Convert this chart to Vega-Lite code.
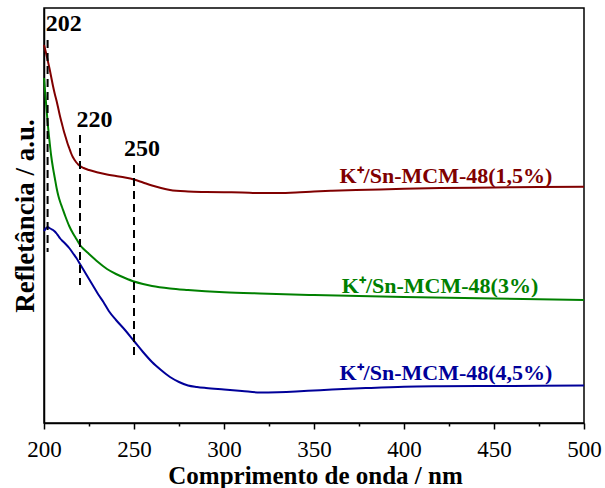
{
  "$schema": "https://vega.github.io/schema/vega-lite/v6.json",
  "autosize": "none",
  "width": 540,
  "height": 415,
  "padding": {"left": 44, "top": 8, "right": 21, "bottom": 65},
  "background": "white",
  "config": {
    "font": "Liberation Serif",
    "view": {"stroke": "black", "strokeWidth": 1.5}
  },
  "datasets": {
    "curves": [
      {"nm": 200, "r": 378, "s": "1,5%"}, {"nm": 201, "r": 371, "s": "1,5%"}, {"nm": 202, "r": 363, "s": "1,5%"},
      {"nm": 203, "r": 355, "s": "1,5%"}, {"nm": 204, "r": 346, "s": "1,5%"}, {"nm": 205, "r": 337, "s": "1,5%"},
      {"nm": 206, "r": 329, "s": "1,5%"}, {"nm": 207, "r": 322, "s": "1,5%"}, {"nm": 208, "r": 314, "s": "1,5%"},
      {"nm": 209, "r": 306, "s": "1,5%"}, {"nm": 210, "r": 299, "s": "1,5%"}, {"nm": 211, "r": 292, "s": "1,5%"},
      {"nm": 212, "r": 286, "s": "1,5%"}, {"nm": 213, "r": 280, "s": "1,5%"}, {"nm": 214, "r": 275, "s": "1,5%"},
      {"nm": 215, "r": 270, "s": "1,5%"}, {"nm": 216, "r": 266, "s": "1,5%"}, {"nm": 217, "r": 263, "s": "1,5%"},
      {"nm": 218, "r": 260.5, "s": "1,5%"}, {"nm": 219, "r": 258.5, "s": "1,5%"}, {"nm": 220, "r": 257, "s": "1,5%"},
      {"nm": 222, "r": 255, "s": "1,5%"}, {"nm": 225, "r": 253, "s": "1,5%"}, {"nm": 230, "r": 250.5, "s": "1,5%"},
      {"nm": 235, "r": 248.5, "s": "1,5%"}, {"nm": 240, "r": 247, "s": "1,5%"}, {"nm": 245, "r": 245.5, "s": "1,5%"},
      {"nm": 250, "r": 243.5, "s": "1,5%"}, {"nm": 255, "r": 240.5, "s": "1,5%"}, {"nm": 260, "r": 237.5, "s": "1,5%"},
      {"nm": 265, "r": 235, "s": "1,5%"}, {"nm": 270, "r": 233, "s": "1,5%"}, {"nm": 280, "r": 231.5, "s": "1,5%"},
      {"nm": 290, "r": 231, "s": "1,5%"}, {"nm": 300, "r": 230.7, "s": "1,5%"}, {"nm": 310, "r": 230.5, "s": "1,5%"},
      {"nm": 320, "r": 230, "s": "1,5%"}, {"nm": 330, "r": 230, "s": "1,5%"}, {"nm": 340, "r": 230.5, "s": "1,5%"},
      {"nm": 350, "r": 231.5, "s": "1,5%"}, {"nm": 360, "r": 232.2, "s": "1,5%"}, {"nm": 380, "r": 233.2, "s": "1,5%"},
      {"nm": 400, "r": 234.2, "s": "1,5%"}, {"nm": 420, "r": 235, "s": "1,5%"}, {"nm": 450, "r": 235.5, "s": "1,5%"},
      {"nm": 475, "r": 236, "s": "1,5%"}, {"nm": 500, "r": 236.3, "s": "1,5%"},

      {"nm": 200, "r": 345, "s": "3%"}, {"nm": 201, "r": 323, "s": "3%"}, {"nm": 202, "r": 301, "s": "3%"},
      {"nm": 203, "r": 283, "s": "3%"}, {"nm": 204, "r": 267, "s": "3%"}, {"nm": 205, "r": 255, "s": "3%"},
      {"nm": 206, "r": 245, "s": "3%"}, {"nm": 207, "r": 235, "s": "3%"}, {"nm": 208, "r": 227, "s": "3%"},
      {"nm": 209, "r": 221, "s": "3%"}, {"nm": 210, "r": 216, "s": "3%"}, {"nm": 212, "r": 206, "s": "3%"},
      {"nm": 214, "r": 197, "s": "3%"}, {"nm": 216, "r": 190, "s": "3%"}, {"nm": 218, "r": 184, "s": "3%"},
      {"nm": 220, "r": 178, "s": "3%"}, {"nm": 222, "r": 174, "s": "3%"}, {"nm": 225, "r": 169, "s": "3%"},
      {"nm": 230, "r": 161, "s": "3%"}, {"nm": 235, "r": 154, "s": "3%"}, {"nm": 240, "r": 149, "s": "3%"},
      {"nm": 245, "r": 145, "s": "3%"}, {"nm": 250, "r": 141.5, "s": "3%"}, {"nm": 255, "r": 139, "s": "3%"},
      {"nm": 260, "r": 137, "s": "3%"}, {"nm": 270, "r": 134.5, "s": "3%"}, {"nm": 280, "r": 133, "s": "3%"},
      {"nm": 300, "r": 130.8, "s": "3%"}, {"nm": 320, "r": 129.5, "s": "3%"}, {"nm": 350, "r": 128, "s": "3%"},
      {"nm": 400, "r": 126, "s": "3%"}, {"nm": 450, "r": 124.5, "s": "3%"}, {"nm": 500, "r": 123, "s": "3%"},

      {"nm": 200, "r": 192, "s": "4,5%"}, {"nm": 201, "r": 194.5, "s": "4,5%"}, {"nm": 202, "r": 196, "s": "4,5%"},
      {"nm": 203, "r": 195, "s": "4,5%"}, {"nm": 204, "r": 194, "s": "4,5%"}, {"nm": 205, "r": 193, "s": "4,5%"},
      {"nm": 206, "r": 191.5, "s": "4,5%"}, {"nm": 207, "r": 189.5, "s": "4,5%"}, {"nm": 208, "r": 187, "s": "4,5%"},
      {"nm": 209, "r": 184.5, "s": "4,5%"}, {"nm": 210, "r": 182.5, "s": "4,5%"}, {"nm": 212, "r": 179, "s": "4,5%"},
      {"nm": 214, "r": 175, "s": "4,5%"}, {"nm": 216, "r": 170, "s": "4,5%"}, {"nm": 218, "r": 165, "s": "4,5%"},
      {"nm": 220, "r": 159, "s": "4,5%"}, {"nm": 222, "r": 153, "s": "4,5%"}, {"nm": 224, "r": 147, "s": "4,5%"},
      {"nm": 226, "r": 141, "s": "4,5%"}, {"nm": 228, "r": 135, "s": "4,5%"}, {"nm": 230, "r": 129, "s": "4,5%"},
      {"nm": 233, "r": 121, "s": "4,5%"}, {"nm": 236, "r": 112, "s": "4,5%"}, {"nm": 240, "r": 103, "s": "4,5%"},
      {"nm": 245, "r": 93, "s": "4,5%"}, {"nm": 250, "r": 82, "s": "4,5%"}, {"nm": 255, "r": 71, "s": "4,5%"},
      {"nm": 260, "r": 61, "s": "4,5%"}, {"nm": 265, "r": 53, "s": "4,5%"}, {"nm": 270, "r": 46, "s": "4,5%"},
      {"nm": 275, "r": 41, "s": "4,5%"}, {"nm": 280, "r": 37.5, "s": "4,5%"}, {"nm": 285, "r": 36, "s": "4,5%"},
      {"nm": 290, "r": 35, "s": "4,5%"}, {"nm": 300, "r": 33.5, "s": "4,5%"}, {"nm": 310, "r": 32, "s": "4,5%"},
      {"nm": 320, "r": 30.5, "s": "4,5%"}, {"nm": 330, "r": 30.8, "s": "4,5%"}, {"nm": 340, "r": 31.5, "s": "4,5%"},
      {"nm": 350, "r": 32.5, "s": "4,5%"}, {"nm": 360, "r": 33.5, "s": "4,5%"}, {"nm": 380, "r": 35, "s": "4,5%"},
      {"nm": 400, "r": 36.2, "s": "4,5%"}, {"nm": 420, "r": 36.7, "s": "4,5%"}, {"nm": 450, "r": 37, "s": "4,5%"},
      {"nm": 475, "r": 37.2, "s": "4,5%"}, {"nm": 500, "r": 37.5, "s": "4,5%"}
    ],
    "peaks": [
      {"nm": 202, "y1": 383, "y2": 171, "ly": 392, "lx": 211, "label": "202"},
      {"nm": 220, "y1": 288, "y2": 138, "ly": 296, "lx": 228, "label": "220"},
      {"nm": 250, "y1": 258, "y2": 68, "ly": 267, "lx": 254.4, "label": "250"}
    ],
    "labels": [
      {"nm": 423.3, "r": 240, "s": "1,5%", "label": "K⁺/Sn-MCM-48(1,5%)"},
      {"nm": 420, "r": 130, "s": "3%", "label": "K⁺/Sn-MCM-48(3%)"},
      {"nm": 423.3, "r": 43, "s": "4,5%", "label": "K⁺/Sn-MCM-48(4,5%)"}
    ]
  },
  "resolve": {"axis": {"x": "independent", "y": "independent"}},
  "layer": [
    {
      "data": {"name": "curves"},
      "mark": {"type": "line", "strokeWidth": 2, "interpolate": "monotone"},
      "encoding": {
        "x": {
          "field": "nm", "type": "quantitative",
          "scale": {"domain": [200, 500], "nice": false, "zero": false},
          "axis": {
            "orient": "bottom",
            "values": [200, 250, 300, 350, 400, 450, 500],
            "title": "Comprimento de onda / nm",
            "titleFont": "Liberation Serif",
            "titleFontSize": 25, "titleFontWeight": "bold", "titleColor": "black",
            "titleX": 271, "titleY": 60, "titleBaseline": "alphabetic", "titleAlign": "center",
            "labelFont": "Liberation Serif",
            "labelFontSize": 23, "labelColor": "black", "labelBaseline": "alphabetic", "labelPadding": 27,
            "labelFlush": false, "labelOverlap": false,
            "tickSize": 6, "tickColor": "black", "tickWidth": 1.5,
            "domainColor": "black", "domainWidth": 1.5, "grid": false
          }
        },
        "y": {
          "field": "r", "type": "quantitative",
          "scale": {"domain": [0, 415], "nice": false, "zero": false},
          "axis": {
            "orient": "left",
            "title": "Refletância / a.u.",
            "titleFont": "Liberation Serif",
            "titleFontSize": 27, "titleFontWeight": "bold", "titleColor": "black",
            "titlePadding": 5, "titleAnchor": "middle",
            "labels": false, "ticks": false, "grid": false,
            "domainColor": "black", "domainWidth": 1.5
          }
        },
        "color": {
          "field": "s", "type": "nominal",
          "scale": {"domain": ["1,5%", "3%", "4,5%"], "range": ["#800000", "#008000", "#000099"]},
          "legend": null
        }
      }
    },
    {
      "data": {"name": "peaks"},
      "mark": {"type": "rule", "strokeDash": [8, 5], "strokeWidth": 2, "color": "black"},
      "encoding": {
        "x": {
          "field": "nm", "type": "quantitative",
          "axis": {
            "orient": "bottom",
            "values": [225, 275, 325, 375, 425, 475],
            "labels": false, "domain": false, "grid": false, "title": null,
            "tickSize": 3, "tickColor": "black", "tickWidth": 1.5
          }
        },
        "y": {"field": "y1", "type": "quantitative", "axis": null},
        "y2": {"field": "y2"}
      }
    },
    {
      "data": {"name": "peaks"},
      "mark": {"type": "text", "font": "Liberation Serif", "fontSize": 24, "fontWeight": "bold", "color": "black", "baseline": "alphabetic", "align": "center"},
      "encoding": {
        "x": {"field": "lx", "type": "quantitative", "axis": null},
        "y": {"field": "ly", "type": "quantitative", "axis": null},
        "text": {"field": "label"}
      }
    },
    {
      "data": {"name": "labels"},
      "mark": {"type": "text", "font": "Liberation Serif", "fontSize": 22, "fontWeight": "bold", "baseline": "alphabetic", "align": "center"},
      "encoding": {
        "x": {"field": "nm", "type": "quantitative", "axis": null},
        "y": {"field": "r", "type": "quantitative", "axis": null},
        "text": {"field": "label"},
        "color": {"field": "s", "type": "nominal", "legend": null}
      }
    }
  ]
}
